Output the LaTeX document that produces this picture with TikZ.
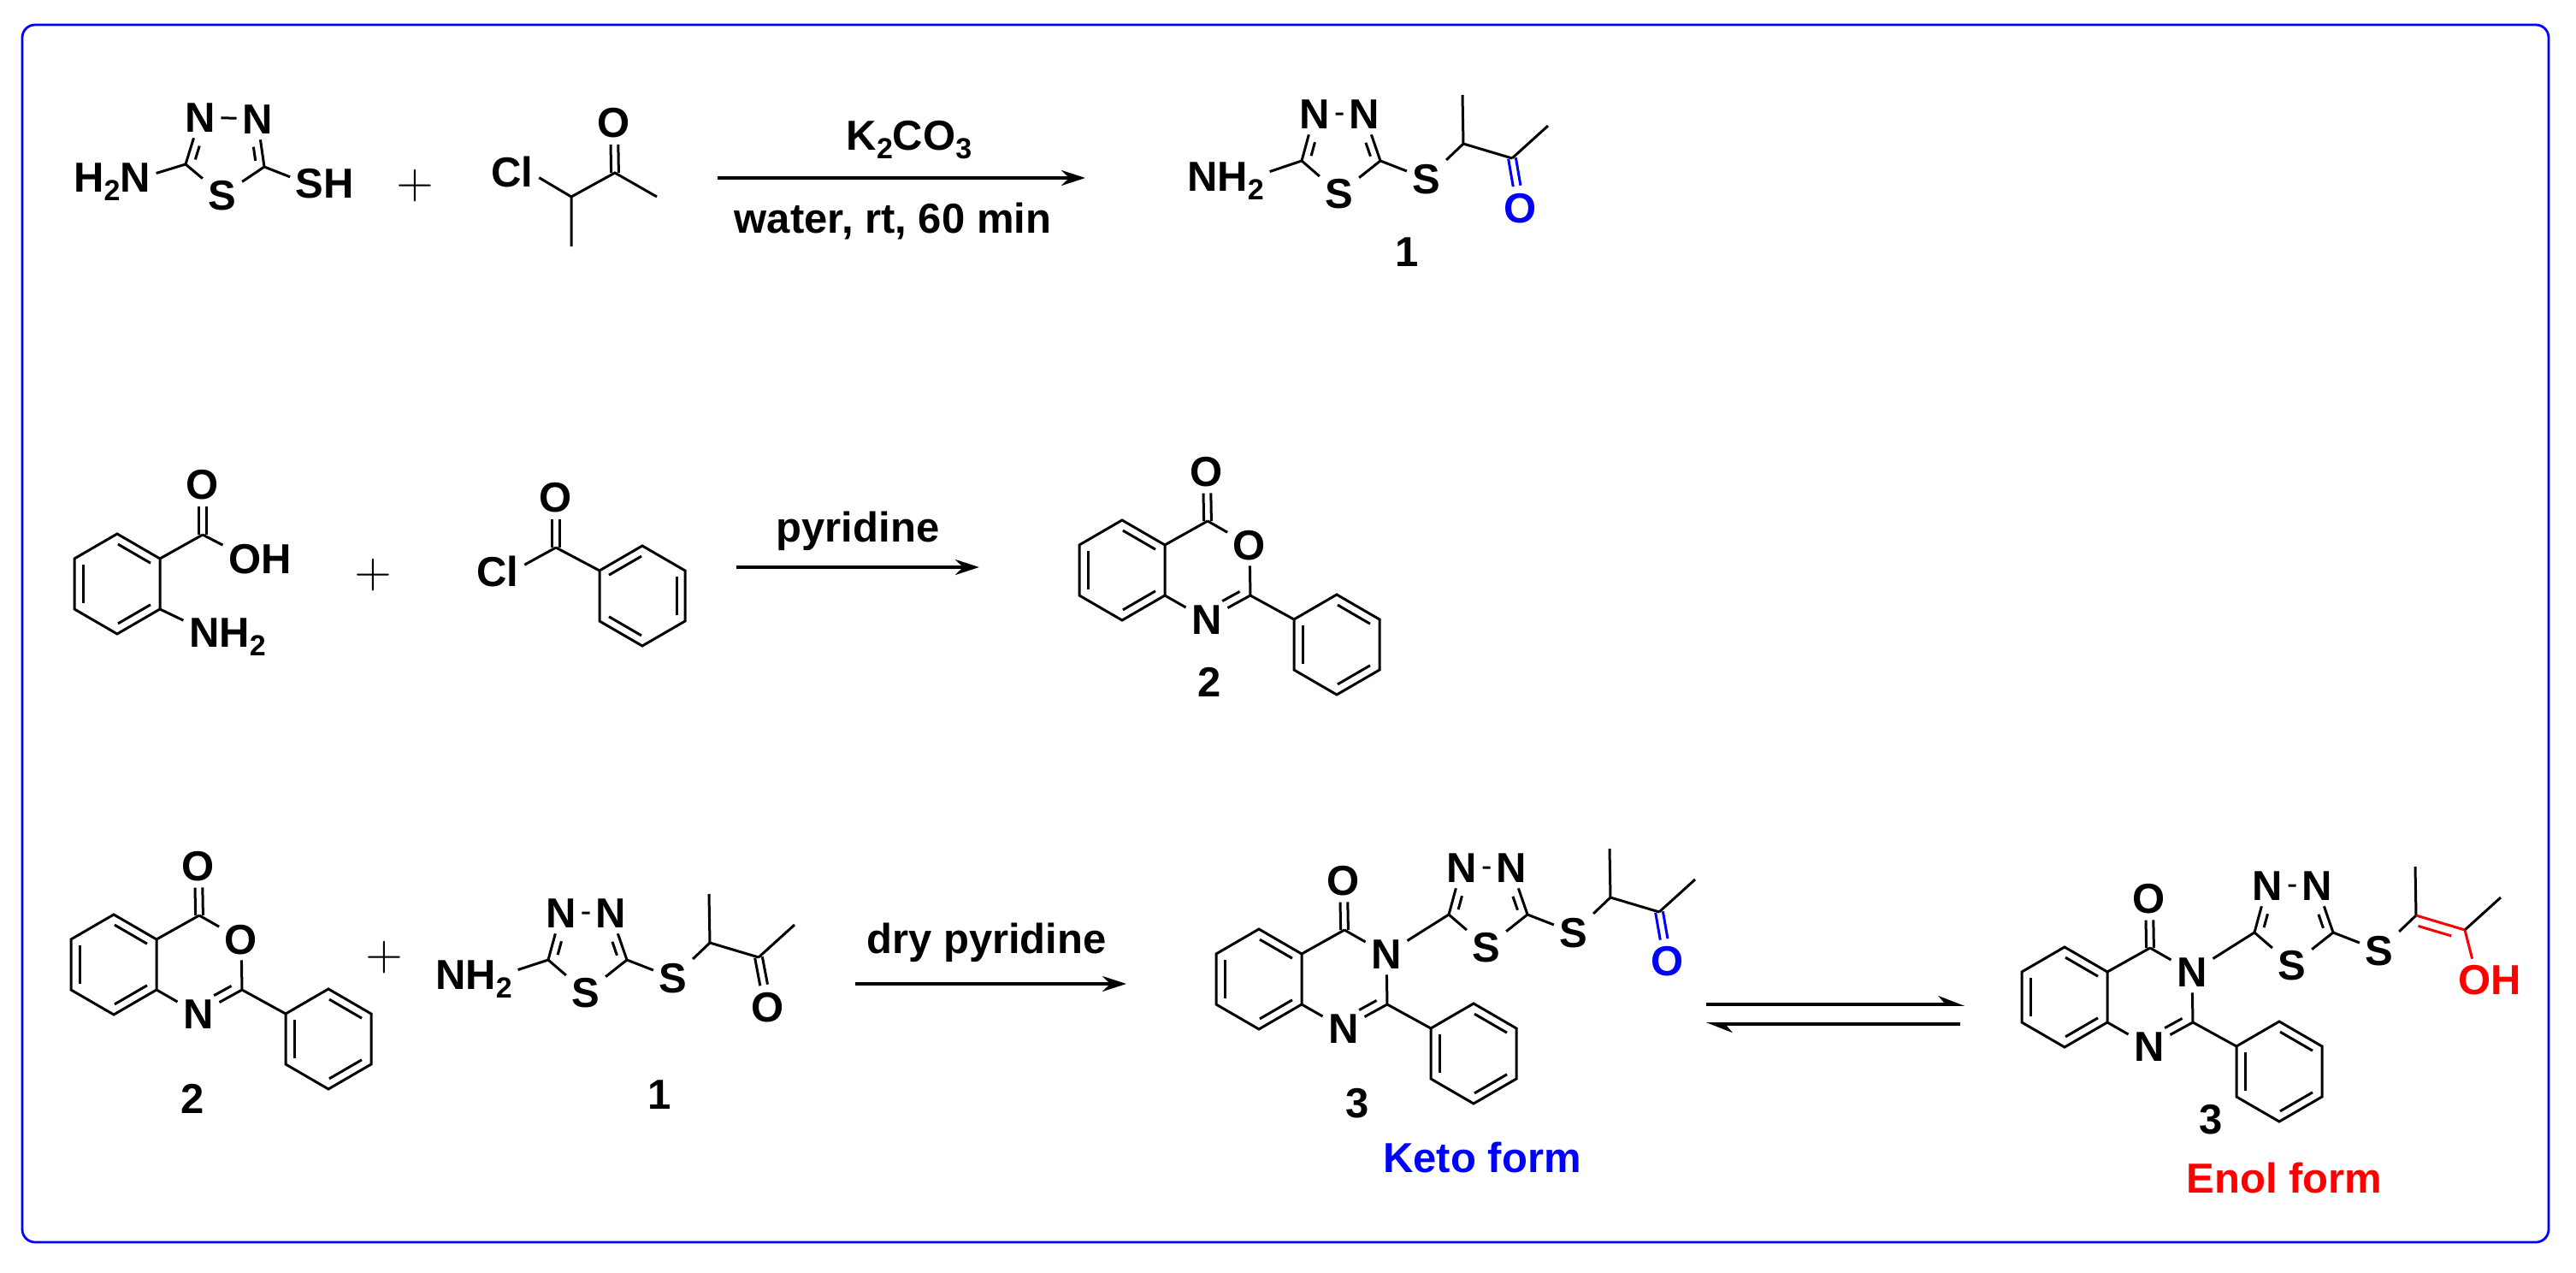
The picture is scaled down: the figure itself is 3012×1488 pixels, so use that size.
\documentclass[tikz,border=0pt]{standalone}
\usepackage{fontspec}
\setmainfont{Liberation Sans}
\usetikzlibrary{arrows.meta, calc}
\tikzset{
    bond/.style={line width=0.75pt},
    atom/.style={font=\bfseries\fontsize{12.25}{14}\selectfont, inner sep=1.5pt,
        text height=8.75pt, text depth=0pt},
    caption/.style={atom, inner sep=0pt},
    plussign/.style={inner sep=0pt, font=\fontsize{14.2}{16}\selectfont},
    frame/.style={draw=blue, line width=0.7pt, rounded corners=3.75pt},
    rxn/.style={line width=0.9pt, -{Stealth[length=7pt,width=4.5pt]}},
    equil/.style={line width=0.9pt, -{Stealth[harpoon,length=6.5pt,width=5pt]}}
}
\newcommand{\subnum}[1]{\raisebox{-2.6pt}{\fontsize{8.5}{9}\selectfont #1}}
\newcommand{\innerbond}[6][]{
    \draw[bond,#1] ($(#2)!#5!(#3)!#4!90:(#3)$) -- ($(#2)!#6!(#3)!#4!90:(#3)$);
}
\newcommand{\cobond}[3][]{
    \innerbond[#1]{#2}{#3}{1.1pt}{0}{.56}
    \innerbond[#1]{#2}{#3}{-1.1pt}{0}{.56}
}
\newcommand{\benzring}[4]{
    \begin{scope}[shift={(#2,#3)}]
    \coordinate (#1v1) at (0,0);
    \coordinate (#1v2) at (50,29);
    \coordinate (#1v3) at (50,88);
    \coordinate (#1v4) at (0,117);
    \coordinate (#1v5) at (-50,88);
    \coordinate (#1v6) at (-50,29);
    \draw[bond] (#1v1) -- (#1v2) -- (#1v3) -- (#1v4) -- (#1v5) -- (#1v6) -- cycle;
    \foreach \p/\q in {#4} {\innerbond{#1v\p}{#1v\q}{-2.5pt}{.12}{.88}}
    \end{scope}
}
\newcommand{\fused}[4]{
    \benzring{#1b}{#2}{#3}{1/2,3/4,5/6}
    \benzring{#1p}{#2+251}{#3+87}{1/2,3/4,5/6}
    \begin{scope}[shift={(#2,#3)}]
    \coordinate (#1c4) at (100,1);
    \coordinate (#1c2) at (150,88);
    \node[atom] (#1o) at (99,-57) {O};
    \node[atom] (#1x) at (149,29) {#4};
    \node[atom] (#1n) at (99,116) {N};
    \end{scope}
    \draw[bond] (#1bv2) -- (#1c4) (#1c4) -- (#1x) (#1x) -- (#1c2)
        (#1c2) -- (#1n) (#1n) -- (#1bv3) (#1c2) -- (#1pv6);
    \cobond{#1c4}{#1o}
    \innerbond{#1c2}{#1n}{-2.5pt}{.15}{.55}
}
\newcommand{\thiaring}[1]{
    \draw[bond] (#1n1) -- (#1n2) (#1c5) -- (#1n1) (#1c2) -- (#1n2)
        (#1c5) -- (#1s) (#1c2) -- (#1s);
    \innerbond{#1c5}{#1n1}{-2.3pt}{.15}{.44}
    \innerbond{#1c2}{#1n2}{2.3pt}{.15}{.44}
}
\newcommand{\thiachain}[3]{
    \begin{scope}[shift={(#2,#3)}]
    \coordinate (#1c5) at (0,0);
    \coordinate (#1c2) at (92,0);
    \node[atom] (#1n1) at (15,-55) {N};
    \node[atom] (#1n2) at (73,-55) {N};
    \node[atom] (#1s) at (44,38) {S};
    \node[atom] (#1st) at (146,21) {S};
    \coordinate (#1ch) at (189,-20);
    \coordinate (#1me) at (188,-77);
    \coordinate (#1cq) at (246,-3);
    \coordinate (#1mf) at (288,-41);
    \end{scope}
    \thiaring{#1}
    \draw[bond] (#1c2) -- (#1st) (#1st) -- (#1ch) (#1ch) -- (#1me) (#1cq) -- (#1mf);
}
\begin{document}
\begin{tikzpicture}[x=0.25pt,y=-0.25pt]
\useasboundingbox (0,0) rectangle (3012,1488);
\coordinate (fa) at (26,29);
\coordinate (fb) at (2980,1452);
\draw[frame] (fa) rectangle (fb);

\coordinate (ac5) at (217,192);
\coordinate (ac2) at (309,195);
\node[atom] (an1) at (234,137) {N};
\node[atom] (an2) at (301,139) {N};
\node[atom] (as) at (260,228) {S};
\node[atom] (anh) at (131,207) {H\subnum{2}N};
\node[atom] (ash) at (380,214) {SH};
\thiaring{a}
\draw[bond] (ac5) -- (anh.5) (ac2) -- (ash.170);
\node[plussign] (plusa) at (485,217) {$+$};
\node[atom] (bcl) at (599,201) {Cl};
\coordinate (bch) at (668,230);
\coordinate (bme) at (668,288);
\coordinate (bc) at (719,202);
\coordinate (bmf) at (768,230);
\node[atom] (bo) at (718,143) {O};
\draw[bond] (bcl.-12) -- (bch) -- (bme) (bch) -- (bc) -- (bmf);
\cobond{bc}{bo}
\coordinate (ra) at (839,208);
\coordinate (rb) at (1269,208);
\draw[rxn] (ra) -- node[caption, above=7.75pt, xshift=2.25pt] {K\subnum{2}CO\subnum{3}}
    node[caption, below=7pt, xshift=-2.5pt] {water, rt, 60 min} (rb);
\thiachain{c}{1522}{188}
\node[atom] (cnh) at (1433,206) {NH\subnum{2}};
\draw[bond] (cc5) -- (cnh.6) (cch) -- (ccq);
\node[atom, text=blue] (co) at (1778,243) {O};
\cobond[blue]{ccq}{co}
\node[caption] (numa) at (1645,294) {1};

\benzring{d}{137}{624}{1/2,3/4,5/6}
\coordinate (dc) at (237,625);
\node[atom] (do) at (237,566) {O};
\node[atom] (doh) at (304,653) {OH};
\node[atom] (dnh) at (266,739) {NH\subnum{2}};
\draw[bond] (dv2) -- (dc) (dc) -- (doh.160) (dv3) -- (dnh.165);
\cobond{dc}{do}
\node[plussign] (plusb) at (436,672) {$+$};
\benzring{e}{751}{638}{2/3,4/5,6/1}
\coordinate (ec) at (650,640);
\node[atom] (eo) at (650,581) {O};
\node[atom] (ecl) at (582,668) {Cl};
\draw[bond] (ev6) -- (ec) (ec) -- (ecl.14);
\cobond{ec}{eo}
\coordinate (rc) at (861,663);
\coordinate (rd) at (1145,663);
\draw[rxn] (rc) -- node[caption, above=7pt] {pyridine} (rd);
\fused{f}{1312}{608}{O}
\node[caption] (numb) at (1414,797) {2};

\fused{g}{133}{1069}{O}
\node[caption] (numc) at (225,1284) {2};
\node[plussign] (plusc) at (449,1119) {$+$};
\thiachain{h}{641}{1122}
\node[atom] (hnh) at (554,1139) {NH\subnum{2}};
\draw[bond] (hc5) -- (hnh.6) (hch) -- (hcq);
\node[atom] (ho) at (898,1177) {O};
\cobond{hcq}{ho}
\node[caption] (numd) at (771,1279) {1};
\coordinate (re) at (1000,1150);
\coordinate (rf) at (1317,1150);
\draw[rxn] (re) -- node[caption, above=8.5pt, xshift=-1.25pt] {dry pyridine} (rf);

\fused{k}{1472}{1086}{N}
\thiachain{m}{1694}{1069}
\draw[bond] (kx) -- (mc5) (mch) -- (mcq);
\node[atom, text=blue] (mo) at (1950,1123) {O};
\cobond[blue]{mcq}{mo}
\node[caption] (nume) at (1587,1289) {3};
\node[caption, text=blue] (keto) at (1733,1353) {Keto form};

\coordinate (rg) at (1995,1174);
\coordinate (rh) at (2297,1174);
\coordinate (ri) at (2292,1197);
\coordinate (rj) at (1995,1197);
\draw[equil] (rg) -- (rh);
\draw[equil] (ri) -- (rj);

\fused{p}{2414}{1107}{N}
\thiachain{q}{2636}{1090}
\draw[bond] (px) -- (qc5);
\draw[bond, red] (qch) -- (qcq);
\innerbond[red]{qch}{qcq}{-2.8pt}{.1}{.78}
\node[atom, text=red] (qoh) at (2911,1145) {OH};
\draw[bond, red] (qcq) -- (qoh.130);
\node[caption] (numf) at (2585,1308) {3};
\node[caption, text=red] (enol) at (2671,1377) {Enol form};
\end{tikzpicture}
\end{document}
